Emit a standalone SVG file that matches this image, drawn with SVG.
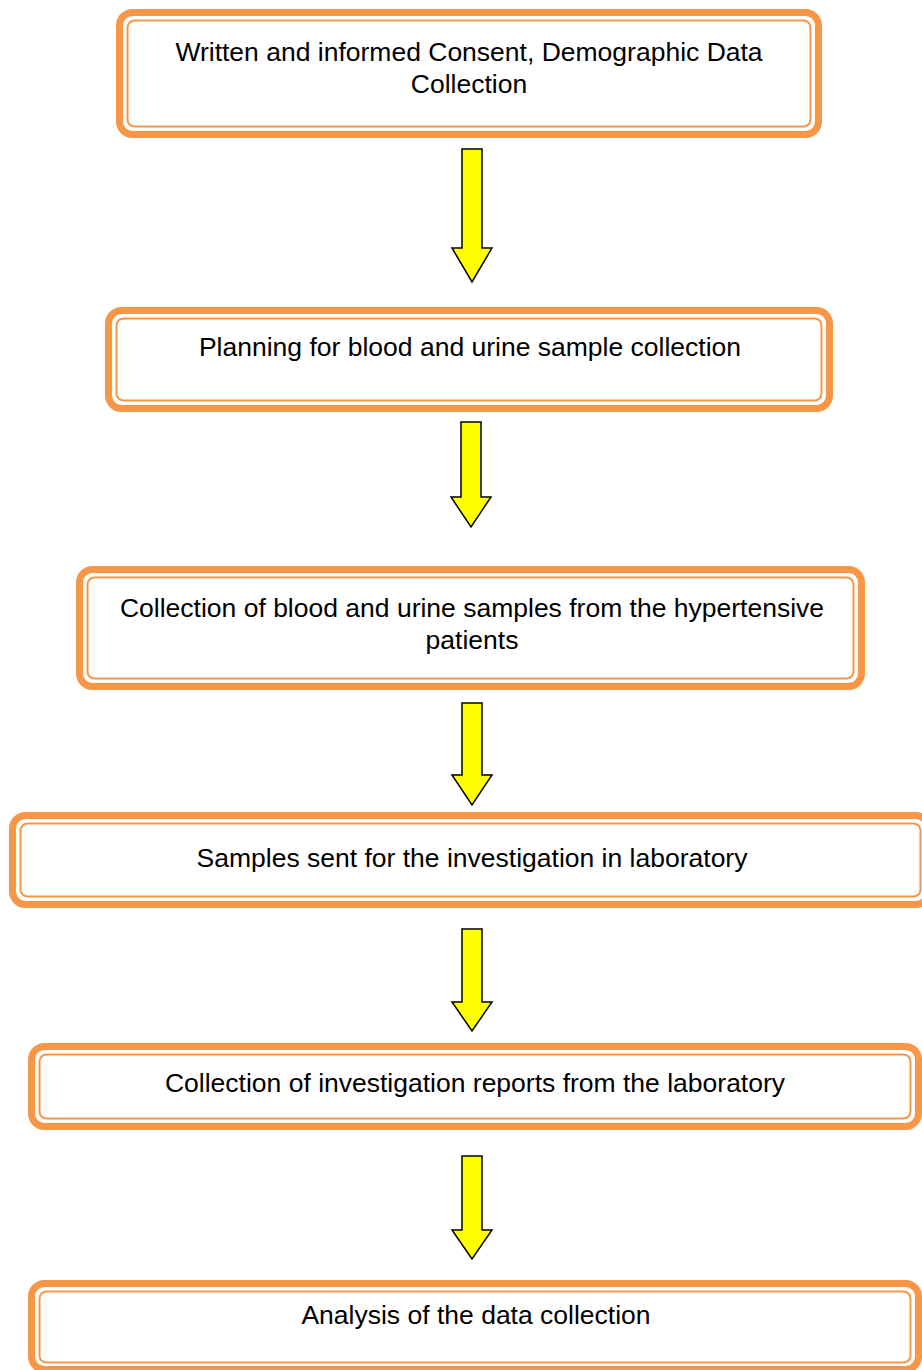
<svg xmlns="http://www.w3.org/2000/svg" width="922" height="1370" viewBox="0 0 922 1370">
<style>
.outer{fill:#fff;stroke:#F79646;stroke-width:7}
.inner{fill:none;stroke:#F79646;stroke-width:2}
.arrow{fill:#FFFF00;stroke:#000;stroke-width:1.5;stroke-linejoin:miter}
text{font-family:"Liberation Sans",Arial,sans-serif;font-size:26.5px;fill:#000;text-anchor:middle}
</style>
<rect width="922" height="1370" fill="#fff"/>
<g id="node1">
<rect class="outer" x="119.5" y="12.5" width="699" height="122" rx="13"/>
<rect class="inner" x="127.5" y="20.5" width="683" height="106" rx="7"/>
<text x="469" y="61">Written and informed Consent, Demographic Data</text>
<text x="469" y="93">Collection</text>
</g>
<g id="node2">
<rect class="outer" x="108.5" y="310.5" width="721" height="98" rx="13"/>
<rect class="inner" x="116.5" y="318.5" width="705" height="82" rx="7"/>
<text x="470" y="356">Planning for blood and urine sample collection</text>
</g>
<g id="node3">
<rect class="outer" x="79.5" y="569.5" width="782" height="117" rx="13"/>
<rect class="inner" x="87.5" y="577.5" width="766" height="101" rx="7"/>
<text x="472" y="617">Collection of blood and urine samples from the hypertensive</text>
<text x="472" y="649">patients</text>
</g>
<g id="node4">
<rect class="outer" x="12.5" y="815.5" width="916" height="89" rx="13"/>
<rect class="inner" x="20.5" y="823.5" width="900" height="73" rx="7"/>
<text x="472" y="867">Samples sent for the investigation in laboratory</text>
</g>
<g id="node5">
<rect class="outer" x="31.5" y="1046.5" width="887" height="80" rx="13"/>
<rect class="inner" x="39.5" y="1054.5" width="871" height="64" rx="7"/>
<text x="475" y="1092">Collection of investigation reports from the laboratory</text>
</g>
<g id="node6">
<rect class="outer" x="31.5" y="1283.5" width="887" height="86" rx="13"/>
<rect class="inner" x="39.5" y="1291.5" width="871" height="71" rx="7"/>
<text x="476" y="1324">Analysis of the data collection</text>
</g>
<g id="connectors">
<polygon class="arrow" points="462,149 482,149 482,248 492,248 472,282 452,248 462,248"/>
<polygon class="arrow" points="461,422 481,422 481,497 491,497 471,527 451,497 461,497"/>
<polygon class="arrow" points="462,703 482,703 482,775 492,775 472,805 452,775 462,775"/>
<polygon class="arrow" points="462,929 482,929 482,1002 492,1002 472,1031 452,1002 462,1002"/>
<polygon class="arrow" points="462,1156 482,1156 482,1230 492,1230 472,1259 452,1230 462,1230"/>
</g>
</svg>
